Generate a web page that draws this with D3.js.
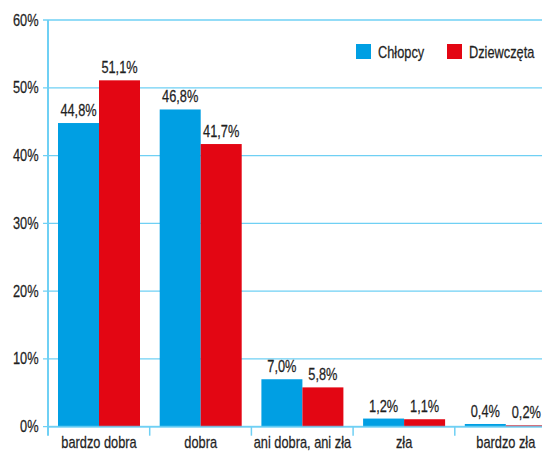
<!DOCTYPE html>
<html>
<head>
<meta charset="utf-8">
<script src="https://cdn.jsdelivr.net/npm/d3@7"></script>
<style>
  body { margin: 0; background: #fff; }
  text { font-family: "Liberation Sans", Arial, sans-serif; fill: #1f1f1f; font-size: 16px;
         stroke: #1f1f1f; stroke-width: 0.25px; }
</style>
</head>
<body>
<div id="chart"></div>
<script>
var categories = ["bardzo dobra", "dobra", "ani dobra, ani zła", "zła", "bardzo zła"];
var series = ["Chłopcy", "Dziewczęta"];
var boys = [44.8, 46.8, 7.0, 1.2, 0.4];
var girls = [51.1, 41.7, 5.8, 1.1, 0.2];
var yTicks = [0, 10, 20, 30, 40, 50, 60];
var colors = ["#009fe3", "#e30613"];

var width = 542, height = 453;
var margin = {top: 20, left: 48, bottom: 26};
var bandW = 101.7;
var narrow = 0.8; // condensed look of the original type

// place a text with a horizontal squeeze
function place(xv, yv) {
    return "translate(" + xv + "," + yv + ") scale(" + narrow + ",1)";
}

var svg = d3.select("#chart").append("svg")
    .attr("width", width)
    .attr("height", height);

var x = d3.scaleBand()
    .domain(categories)
    .range([margin.left, margin.left + bandW * categories.length])
    .paddingInner(0)
    .paddingOuter(0);

var y = d3.scaleLinear().domain([0, 60]).range([height - margin.bottom - 0.3, margin.top]);

var xs = d3.scaleBand().domain(series).range([10, 92]);

// grid lines
svg.append("g")
    .selectAll("line")
    .data(yTicks)
    .enter().append("line")
    .attr("x1", margin.left - 5)
    .attr("x2", width)
    .attr("y1", function(d) { return y(d); })
    .attr("y2", function(d) { return y(d); })
    .attr("stroke", "#6fd0f4")
    .attr("stroke-width", 1.3);

// y labels
svg.append("g")
    .selectAll("text")
    .data(yTicks)
    .enter().append("text")
    .attr("transform", function(d) { return place(38.5, y(d) + 5.5); })
    .attr("text-anchor", "end")
    .text(function(d) { return d + "%"; });

// bars
var data = categories.map(function(c, i) { return {cat: c, vals: [boys[i], girls[i]]}; });

var groups = svg.append("g").selectAll("g")
    .data(data)
    .enter().append("g")
    .attr("transform", function(d) { return "translate(" + x(d.cat) + ",0)"; });

groups.selectAll("rect")
    .data(function(d) { return d.vals.map(function(v, j) { return {s: series[j], v: v, j: j}; }); })
    .enter().append("rect")
    .attr("x", function(d) { return xs(d.s); })
    .attr("width", xs.bandwidth())
    .attr("y", function(d) { return y(d.v); })
    .attr("height", function(d) { return y(0) - y(d.v); })
    .attr("fill", function(d) { return colors[d.j]; });

groups.selectAll("text")
    .data(function(d) { return d.vals.map(function(v, j) { return {s: series[j], v: v, j: j}; }); })
    .enter().append("text")
    .attr("transform", function(d) { return place(xs(d.s) + xs.bandwidth() / 2, y(d.v) - 7); })
    .attr("text-anchor", "middle")
    .text(function(d) { return d.v.toFixed(1).replace(".", ",") + "%"; });

// axes
svg.append("line")
    .attr("x1", margin.left).attr("x2", margin.left)
    .attr("y1", y(60)).attr("y2", y(0) + 9)
    .attr("stroke", "#6fd0f4").attr("stroke-width", 2);

svg.append("line")
    .attr("x1", margin.left).attr("x2", width)
    .attr("y1", y(0)).attr("y2", y(0))
    .attr("stroke", "#6fd0f4").attr("stroke-width", 2)
    .attr("stroke-opacity", 0.8);

svg.append("g").selectAll("line")
    .data(categories.slice(1))
    .enter().append("line")
    .attr("x1", function(d) { return x(d); })
    .attr("x2", function(d) { return x(d); })
    .attr("y1", y(0))
    .attr("y2", y(0) + 9)
    .attr("stroke", "#6fd0f4").attr("stroke-width", 1.5);

svg.append("g").selectAll("text")
    .data(categories)
    .enter().append("text")
    .attr("transform", function(d) { return place(x(d) + 51, y(0) + 21); })
    .attr("text-anchor", "middle")
    .text(function(d) { return d; });

// legend
var legendX = [356, 447];
var legend = svg.append("g").selectAll("g")
    .data(series)
    .enter().append("g")
    .attr("transform", function(d, i) { return "translate(" + legendX[i] + ",44)"; });

legend.append("rect")
    .attr("width", 15).attr("height", 15)
    .attr("fill", function(d, i) { return colors[i]; });

legend.append("text")
    .attr("transform", place(22, 14))
    .text(function(d) { return d; });
</script>
</body>
</html>
